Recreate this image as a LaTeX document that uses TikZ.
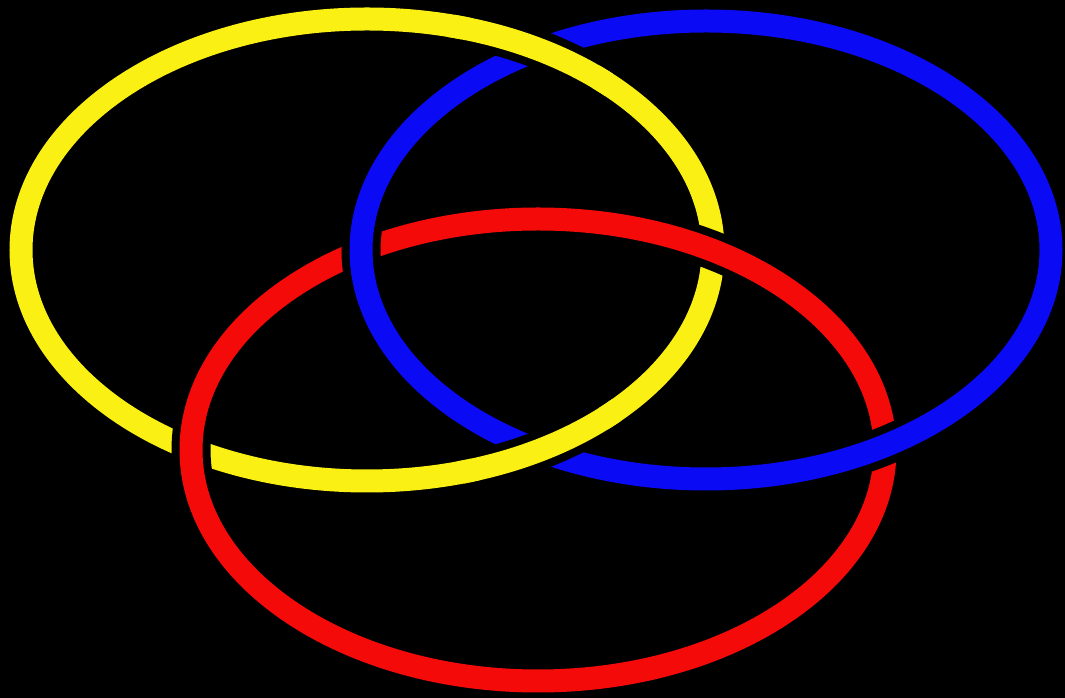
\documentclass[tikz,border=0pt]{standalone}
\begin{document}
\begin{tikzpicture}[x=1pt,y=1pt,
  ringline/.style={line width=23pt},
  ringedge/.style={line width=39pt,black}]
\fill[black] (0,0) rectangle (1065,698);
\useasboundingbox (0,0) rectangle (1065,698);
\definecolor{ry}{RGB}{250,240,20}
\definecolor{rb}{RGB}{10,10,245}
\definecolor{rr}{RGB}{245,10,10}
\coordinate (Y) at (367,448);
\coordinate (B) at (706,448);
\coordinate (R) at (538,248);
% yellow (bottom)
\draw[ringline,ry] (Y) ellipse [x radius=346,y radius=231];
% red over yellow
\draw[ringedge] (R) ellipse [x radius=347,y radius=231];
\draw[ringline,rr] (R) ellipse [x radius=347,y radius=231];
% blue over red
\draw[ringedge] (B) ellipse [x radius=345,y radius=229];
\draw[ringline,rb] (B) ellipse [x radius=345,y radius=229];
% yellow over blue at its two crossings
\begin{scope}
\clip (530,643) circle (70) (540,253) circle (70);
\draw[ringedge] (Y) ellipse [x radius=346,y radius=231];
\end{scope}
\begin{scope}
\clip (530,643) circle (85) (540,253) circle (85);
\draw[ringline,ry] (Y) ellipse [x radius=346,y radius=231];
\end{scope}
\end{tikzpicture}
\end{document}
